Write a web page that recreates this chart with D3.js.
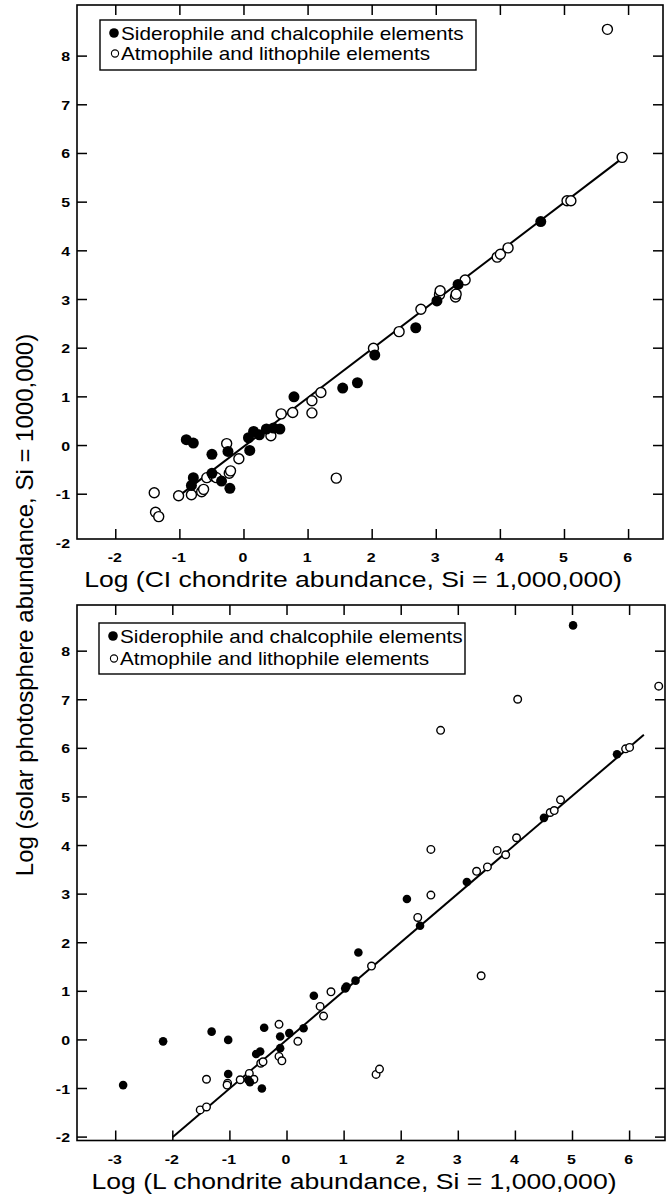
<!DOCTYPE html>
<html>
<head>
<meta charset="utf-8">
<script src="https://cdn.jsdelivr.net/npm/d3@7"></script>
<style>
  body { margin: 0; background: #fff; }
  text { font-family: "Liberation Sans", Arial, Helvetica, sans-serif; fill: #000; }
</style>
</head>
<body>
<script>
// ticks
const xTicksCI = [-2, -1, 0, 1, 2, 3, 4, 5, 6]
const xTicksL = [-3, -2, -1, 0, 1, 2, 3, 4, 5, 6]
const yTicks = [-2, -1, 0, 1, 2, 3, 4, 5, 6, 7, 8]

const legendLabels = ['Siderophile and chalcophile elements', 'Atmophile and lithophile elements']
const xTitleCI = 'Log (CI chondrite abundance, Si = 1,000,000)'
const xTitleL = 'Log (L chondrite abundance, Si = 1,000,000)'
const yTitle = 'Log (solar photosphere abundance, Si = 1000,000)'

// CI chondrite panel : [log chondrite, log photosphere]
const ciFilled = [
  [-0.9, 0.12], [-0.79, 0.05], [-0.5, -0.18], [-0.79, -0.66], [-0.82, -0.82],
  [-0.5, -0.57], [-0.35, -0.73], [-0.22, -0.88], [-0.25, -0.12], [0.09, -0.1],
  [0.07, 0.16], [0.15, 0.29], [0.24, 0.22], [0.35, 0.34], [0.46, 0.36],
  [0.56, 0.34], [0.78, 1.0], [1.54, 1.18], [1.77, 1.29], [2.04, 1.86],
  [2.68, 2.42], [3.01, 2.97], [3.34, 3.31], [4.63, 4.6]
]
const ciOpen = [
  [-1.4, -0.97], [-1.38, -1.37], [-1.33, -1.46], [-1.02, -1.03], [-0.82, -1.01],
  [-0.66, -0.95], [-0.63, -0.9], [-0.58, -0.66], [-0.47, -0.63], [-0.43, -0.66],
  [-0.27, 0.04], [-0.23, -0.57], [-0.21, -0.52], [-0.08, -0.27], [0.42, 0.2],
  [0.58, 0.65], [0.76, 0.68], [1.06, 0.92], [1.06, 0.67], [1.2, 1.09],
  [1.44, -0.67], [2.02, 2.0], [2.42, 2.34], [2.76, 2.8], [3.05, 3.1],
  [3.06, 3.18], [3.3, 3.05], [3.31, 3.11], [3.45, 3.4], [3.95, 3.87],
  [4.0, 3.93], [4.12, 4.06], [5.04, 5.03], [5.1, 5.03], [5.9, 5.92], [5.67, 8.55]
]
const ciFit = [[-1.03, -1.05], [5.95, 5.95]]

// L chondrite panel
const lFilled = [
  [-2.87, -0.93], [-2.17, -0.03], [-1.32, 0.17], [-1.03, 0.0], [-1.03, -0.7],
  [-0.4, 0.25], [-0.54, -0.29], [-0.47, -0.24], [-0.44, -1.0], [-0.68, -0.82],
  [-0.65, -0.87], [-0.12, 0.07], [-0.12, -0.17], [0.04, 0.14], [0.29, 0.24],
  [0.47, 0.91], [1.02, 1.06], [1.04, 1.1], [1.2, 1.22], [1.25, 1.8],
  [2.1, 2.9], [2.33, 2.35], [3.15, 3.25], [4.5, 4.57], [5.78, 5.88], [5.01, 8.53]
]
const lOpen = [
  [-1.41, -0.81], [-1.04, -0.89], [-0.82, -0.82], [-0.66, -0.69], [-0.58, -0.81],
  [-0.46, -0.48], [-0.42, -0.45], [-0.14, 0.32], [-0.14, -0.34], [-0.09, -0.43],
  [0.19, -0.03], [0.58, 0.69], [0.64, 0.49], [0.77, 0.99], [1.48, 1.52],
  [1.56, -0.71], [1.62, -0.6], [-1.52, -1.44], [-1.41, -1.38], [-1.05, -0.93],
  [2.29, 2.52], [2.52, 2.98], [2.52, 3.92], [3.4, 1.32], [3.32, 3.47],
  [3.51, 3.56], [3.68, 3.9], [3.83, 3.81], [4.02, 4.16], [4.61, 4.68],
  [4.68, 4.72], [4.79, 4.94], [5.93, 5.99], [6.0, 6.02], [2.69, 6.37],
  [4.04, 7.01], [6.51, 7.28]
]
const lFit = [[-2.0, -2.0], [6.25, 6.28]]

const W = 669, H = 1198
const SX = 1.18   // the scanned figure is a bit wide, so text is stretched sideways

const svg = d3.select('body')
  .append('svg')
  .attr('width', W)
  .attr('height', H)

function label(g, x, y, str, size, anchor, bold, sx) {
  return g.append('text')
    .attr('transform', `translate(${x},${y}) scale(${sx || SX},1)`)
    .attr('text-anchor', anchor)
    .attr('font-size', size)
    .attr('font-weight', bold ? 'bold' : 'normal')
    .text(str)
}

function drawPanel(p) {
  const x = d3.scaleLinear().domain(p.xDom).range([p.left, p.right])
  const y = d3.scaleLinear().domain(p.yDom).range([p.bottom, p.top])
  const g = svg.append('g')
  const tk = 10

  g.append('rect')
    .attr('x', p.left).attr('y', p.top)
    .attr('width', p.right - p.left).attr('height', p.bottom - p.top)
    .attr('fill', 'none').attr('stroke', '#000').attr('stroke-width', 1.6)

  // x ticks, bottom and top, pointing inward
  p.xTicks.forEach(t => {
    g.append('line').attr('x1', x(t)).attr('x2', x(t))
      .attr('y1', p.bottom).attr('y2', p.bottom - tk)
      .attr('stroke', '#000').attr('stroke-width', 1.5)
    g.append('line').attr('x1', x(t)).attr('x2', x(t))
      .attr('y1', p.top).attr('y2', p.top + tk)
      .attr('stroke', '#000').attr('stroke-width', 1.5)
    label(g, x(t) - 1, p.bottom + 23, t, 13.5, 'middle', true)
  })

  // y ticks, left and right
  yTicks.forEach(t => {
    const yy = y(t)
    if (yy >= p.top && yy <= p.bottom) {
      g.append('line').attr('x1', p.left).attr('x2', p.left + tk)
        .attr('y1', yy).attr('y2', yy)
        .attr('stroke', '#000').attr('stroke-width', 1.5)
      g.append('line').attr('x1', p.right).attr('x2', p.right - tk)
        .attr('y1', yy).attr('y2', yy)
        .attr('stroke', '#000').attr('stroke-width', 1.5)
    }
    label(g, p.left - 7, yy + 5, t, 13.5, 'end', true)
  })

  // fitted line
  g.append('path')
    .datum(p.fit)
    .attr('d', d3.line().x(d => x(d[0])).y(d => y(d[1])))
    .attr('fill', 'none').attr('stroke', '#000').attr('stroke-width', 2)

  g.selectAll('circle.open')
    .data(p.open)
    .enter()
    .append('circle')
    .attr('class', 'open')
    .attr('cx', d => x(d[0])).attr('cy', d => y(d[1]))
    .attr('r', p.r)
    .attr('fill', '#fff').attr('stroke', '#000').attr('stroke-width', 1.4)

  g.selectAll('circle.filled')
    .data(p.filled)
    .enter()
    .append('circle')
    .attr('class', 'filled')
    .attr('cx', d => x(d[0])).attr('cy', d => y(d[1]))
    .attr('r', p.r + 0.5)
    .attr('fill', '#000')

  // legend
  const lg = p.legend
  g.append('rect')
    .attr('x', lg.x).attr('y', lg.y).attr('width', lg.w).attr('height', lg.h)
    .attr('fill', '#fff').attr('stroke', '#000').attr('stroke-width', 1.4)
  g.append('circle').attr('cx', lg.x + 14).attr('cy', lg.y + 13).attr('r', 4.8).attr('fill', '#000')
  g.append('circle').attr('cx', lg.x + 15).attr('cy', lg.y + 13 + lg.gap).attr('r', 3.6)
    .attr('fill', '#fff').attr('stroke', '#000').attr('stroke-width', 1.1)
  legendLabels.forEach((s, i) => {
    label(g, lg.x + 21, lg.y + 19.5 + i * lg.gap, s, 18, 'start', false, 1.15)
  })

  label(g, (p.left + p.right) / 2 - 17, p.bottom + 48, p.xTitle, 22.5, 'middle', false)
}

drawPanel({
  left: 77, right: 663, top: 5, bottom: 539,
  xDom: [-2.605, 6.537], yDom: [-1.92, 9.05],
  xTicks: xTicksCI, filled: ciFilled, open: ciOpen, fit: ciFit, r: 5,
  legend: { x: 100, y: 20, w: 376, h: 50, gap: 20.5 },
  xTitle: xTitleCI
})

drawPanel({
  left: 77, right: 665, top: 605, bottom: 1140.5,
  xDom: [-3.678, 6.62], yDom: [-2.07, 8.95],
  xTicks: xTicksL, filled: lFilled, open: lOpen, fit: lFit, r: 3.8,
  legend: { x: 99, y: 623, w: 366, h: 51, gap: 22.5 },
  xTitle: xTitleL
})

svg.append('text')
  .attr('transform', 'translate(33,605) rotate(-90)')
  .attr('text-anchor', 'middle')
  .attr('font-size', 24)
  .text(yTitle)
</script>
</body>
</html>
